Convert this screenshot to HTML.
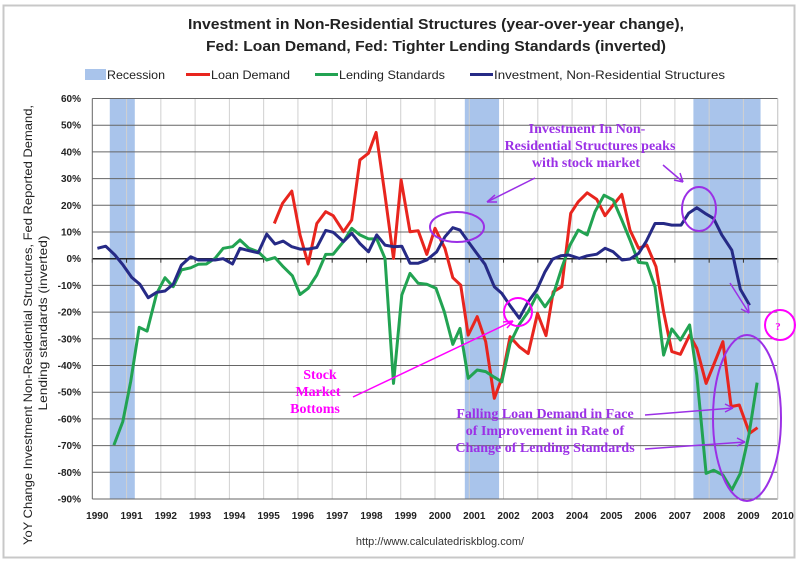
<!DOCTYPE html>
<html><head><meta charset="utf-8"><style>
body{margin:0;background:#fff;}
svg{display:block;font-family:"Liberation Sans",sans-serif;}
</style></head><body>
<svg id="chart" width="800" height="567" viewBox="0 0 800 567" xmlns="http://www.w3.org/2000/svg">
<rect x="3.5" y="5.5" width="791" height="552" fill="#fff" stroke="#c8c8c8" stroke-width="2"/>
<g font-weight="bold" font-size="15" fill="#222" text-anchor="middle">
<text x="436" y="29" textLength="496" lengthAdjust="spacingAndGlyphs">Investment in Non-Residential Structures (year-over-year change),</text>
<text x="436" y="51" textLength="460" lengthAdjust="spacingAndGlyphs">Fed: Loan Demand, Fed: Tighter Lending Standards (inverted)</text>
</g>
<g font-size="12" fill="#222">
<g><rect x="85" y="69" width="21" height="11" fill="#a9c4eb"/><text x="107" y="79" textLength="58" lengthAdjust="spacingAndGlyphs">Recession</text></g>
<g><line x1="186" y1="74.5" x2="210" y2="74.5" stroke="#e8251e" stroke-width="3"/><text x="211" y="79" textLength="79" lengthAdjust="spacingAndGlyphs">Loan Demand</text></g>
<g><line x1="315" y1="74.5" x2="338" y2="74.5" stroke="#22a352" stroke-width="3"/><text x="339" y="79" textLength="106" lengthAdjust="spacingAndGlyphs">Lending Standards</text></g>
<g><line x1="470" y1="74.5" x2="493" y2="74.5" stroke="#262a86" stroke-width="3"/><text x="494" y="79" textLength="231" lengthAdjust="spacingAndGlyphs">Investment, Non-Residential Structures</text></g>
</g>
<g font-size="12" fill="#222" text-anchor="middle">
<text transform="translate(32,325) rotate(-90)" textLength="440" lengthAdjust="spacingAndGlyphs">YoY Change Investment Non-Residential Structures, Fed Reported Demand,</text>
<text transform="translate(47,323) rotate(-90)" textLength="175" lengthAdjust="spacingAndGlyphs">Lending standards (inverted)</text>
</g>
<g id="plot"></g>
<g font-family="'Liberation Serif',serif" font-weight="bold" font-size="14" text-anchor="middle">
<g fill="#9b30e6">
<text x="587" y="133">Investment In Non-</text>
<text x="590" y="150">Residential Structures peaks</text>
<text x="586" y="167">with stock market</text>
</g>
<g fill="#ff00ff">
<text x="320" y="379">Stock</text>
<text x="318" y="396">Market</text>
<text x="315" y="413">Bottoms</text>
</g>
<g fill="#9b30e6">
<text x="545" y="418">Falling Loan Demand in Face</text>
<text x="545" y="435">of Improvement in Rate of</text>
<text x="545" y="452">Change of Lending Standards</text>
</g>
<text x="778" y="330" fill="#ff00ff" font-size="11">?</text>
</g>
<g fill="none" stroke-width="2">
<ellipse cx="457" cy="227" rx="27" ry="15" stroke="#9b30e6"/>
<ellipse cx="699" cy="209" rx="17" ry="22" stroke="#9b30e6"/>
<ellipse cx="747" cy="418" rx="34" ry="83" stroke="#9b30e6"/>
<circle cx="518" cy="312" r="14" stroke="#ff00ff"/>
<circle cx="780" cy="325" r="15" stroke="#ff00ff"/>
<g stroke="#9b30e6" stroke-width="1.5">
<line x1="535" y1="178" x2="487" y2="202"/><path d="M487 202 l8 -7 M487 202 l10 0"/>
<line x1="663" y1="165" x2="683" y2="182"/><path d="M683 182 l-3 -9 M683 182 l-9 -2"/>
<line x1="730" y1="283" x2="749" y2="313"/><path d="M749 313 l-1 -9 M749 313 l-8 -4"/>
<line x1="645" y1="415" x2="733" y2="408"/><path d="M733 408 l-8 -4 M733 408 l-8 4"/>
<line x1="645" y1="449" x2="745" y2="442"/><path d="M745 442 l-8 -4 M745 442 l-8 4"/>
</g>
<g stroke="#ff00ff" stroke-width="1.5">
<line x1="353" y1="397" x2="513" y2="321"/><path d="M513 321 l-10 1 M513 321 l-6 7"/>
</g>
</g>
<text x="440" y="545" font-size="11" fill="#333" text-anchor="middle">http://www.calculatedriskblog.com/</text>
</svg>
<script>
const yTicks = [60,50,40,30,20,10,0,-10,-20,-30,-40,-50,-60,-70,-80,-90];
const years = [1990,1991,1992,1993,1994,1995,1996,1997,1998,1999,2000,2001,2002,2003,2004,2005,2006,2007,2008,2009,2010];
const recessions = [[1990.51,1991.24],[2000.87,2001.87],[2007.54,2009.5]];
const invT = [1990.15,1990.39,1990.66,1990.9,1991.15,1991.39,1991.63,1991.88,1992.12,1992.36,1992.6,1992.87,1993.09,1993.33,1993.58,1993.82,1994.09,1994.31,1994.57,1994.84,1995.09,1995.33,1995.57,1995.82,1996.06,1996.3,1996.55,1996.81,1997.03,1997.33,1997.57,1997.81,1998.06,1998.3,1998.54,1998.79,1999.03,1999.27,1999.51,1999.76,2000.05,2000.29,2000.52,2000.73,2000.97,2001.22,2001.46,2001.73,2001.95,2002.19,2002.46,2002.72,2002.97,2003.21,2003.43,2003.67,2003.9,2004.21,2004.44,2004.72,2004.96,2005.2,2005.46,2005.69,2005.94,2006.16,2006.42,2006.67,2006.91,2007.18,2007.4,2007.64,2007.88,2008.13,2008.37,2008.66,2008.91,2009.18];
const invV = [3.9,4.7,1.4,-2.4,-7,-9.6,-14.6,-12.6,-12.1,-9.6,-2.4,0.7,-0.5,-0.5,-0.5,0,-2,3.9,3,2.2,9.2,5.5,6.6,4.5,3.6,3.6,4.2,10.6,9.9,6.4,9.5,5.7,2.6,8.9,5.1,4.5,4.7,-1.7,-1.7,-0.5,2.6,8.2,11.6,10.7,6.4,2,-2.1,-10.5,-13,-17.6,-22.3,-16.1,-11.7,-4.9,-0.2,1.1,1.4,0.1,1.1,1.7,3.9,2.6,-0.5,-0.1,2,6.4,13.2,13.2,12.6,12.6,17,19.1,17,15.1,8.9,3.2,-11.4,-17.4];
const loanT = [1995.31,1995.55,1995.82,1996.06,1996.3,1996.55,1996.81,1997.03,1997.33,1997.57,1997.81,1998.06,1998.28,1998.54,1998.79,1999.01,1999.27,1999.51,1999.76,2000,2000.29,2000.52,2000.75,2000.97,2001.23,2001.48,2001.73,2001.95,2002.19,2002.46,2002.72,2002.99,2003.24,2003.45,2003.7,2003.96,2004.18,2004.44,2004.72,2004.96,2005.2,2005.45,2005.69,2005.94,2006.18,2006.45,2006.67,2006.91,2007.16,2007.43,2007.64,2007.91,2008.13,2008.4,2008.64,2008.88,2009.18,2009.41];
const loanV = [13.2,20.7,25.3,8.9,-2,13.2,17.6,16.1,10.1,14.5,37,39.5,47.3,23.8,0.1,29.5,10.1,10.5,1.6,11.4,3.9,-7.1,-9.9,-28.6,-21.7,-31.1,-52.3,-44.8,-29.2,-33,-35.5,-20.5,-28.8,-12.4,-10.5,17,21.3,24.7,22.2,16.1,20.1,24.1,10.7,3.9,5.1,-3,-19.9,-34.8,-35.8,-28.6,-33.6,-46.7,-39.8,-31.1,-55.4,-54.8,-65.4,-63.3];
const lendT = [1990.63,1990.89,1991.12,1991.37,1991.6,1991.88,1992.12,1992.36,1992.6,1992.87,1993.09,1993.33,1993.58,1993.82,1994.09,1994.31,1994.57,1994.84,1995.09,1995.33,1995.57,1995.84,1996.06,1996.3,1996.55,1996.81,1997.03,1997.33,1997.57,1997.81,1998.06,1998.3,1998.54,1998.79,1999.03,1999.27,1999.51,1999.76,2000.03,2000.27,2000.52,2000.73,2000.97,2001.23,2001.48,2001.73,2001.95,2002.19,2002.46,2002.72,2002.97,2003.21,2003.45,2003.7,2003.94,2004.18,2004.44,2004.67,2004.93,2005.2,2005.45,2005.69,2005.94,2006.18,2006.42,2006.67,2006.91,2007.16,2007.43,2007.64,2007.91,2008.13,2008.4,2008.66,2008.91,2009.16,2009.4];
const lendV = [-69.8,-61,-46,-25.7,-27.1,-13,-7.1,-10.5,-4.2,-3.4,-2.1,-2,0.1,3.9,4.5,7,3.9,2.6,-0.5,0.4,-3,-6.4,-13.4,-11.1,-6.1,1.6,1.7,6.4,11.4,8.9,7.4,7.4,0.1,-46.7,-13.6,-5.5,-9.2,-9.6,-11.1,-19.9,-32.1,-26.1,-44.8,-41.7,-42.3,-44.4,-46.1,-31.7,-24.6,-19.9,-13.6,-18,-13.6,-3.4,5.1,10.7,8.9,17.6,23.8,22,14.5,7,-1.4,-1.7,-10.5,-36.1,-26.3,-30.5,-24.8,-43.6,-80.4,-79.2,-81,-86.6,-80.4,-66,-46.4];

const X0=92.3, X1=777.7, Y0=258.7, PPU=2.67;
const xS = t => X0 + (t-1990)*(X1-X0)/20;
const yS = v => Y0 - v*PPU;
const NS='http://www.w3.org/2000/svg';
const plot=document.getElementById('plot');
function mk(tag,attrs,parent){const e=document.createElementNS(NS,tag);for(const k in attrs)e.setAttribute(k,attrs[k]);(parent||plot).appendChild(e);return e;}

recessions.forEach(r=>{
  const e=mk('rect',{x:xS(r[0]),y:yS(60),width:xS(r[1])-xS(r[0]),height:yS(-90)-yS(60),fill:'#a9c4eb'});
  
  
});
years.forEach(y=>{
  if(y>1990){const g=mk('line',{x1:xS(y),x2:xS(y),y1:yS(60),y2:yS(-90),stroke:'#d0d0d0','stroke-width':1});
  
  }
  const tk=mk('line',{x1:xS(y),x2:xS(y),y1:Y0,y2:Y0+4,stroke:'#333','stroke-width':1});
  
  
  const t=mk('text',{x:xS(y)+5,y:yS(-90)+20,'font-size':10,'font-weight':'bold','text-anchor':'middle',fill:'#222'});
  t.textContent=y;
  
  
});
yTicks.forEach(v=>{
  const g=mk('line',{x1:X0,x2:X1,y1:yS(v),y2:yS(v),stroke:v===0?'#222':'#666','stroke-width':v===0?1.5:1});
  
  
  const t=mk('text',{x:81,y:yS(v)+3.5,'font-size':10,'font-weight':'bold','text-anchor':'end',fill:'#222'});
  t.textContent=v+'%';
  
  
});
mk('line',{x1:X0,x2:X0,y1:yS(60),y2:yS(-90),stroke:'#666','stroke-width':1});
mk('line',{x1:X1,x2:X1,y1:yS(60),y2:yS(-90),stroke:'#ccc','stroke-width':1});
function series(T,V,color,name){
  const d=T.map((t,i)=>(i?'L':'M')+xS(t).toFixed(1)+' '+yS(V[i]).toFixed(1)).join(' ');
  const p=mk('path',{d:d,fill:'none',stroke:color,'stroke-width':3,'stroke-linejoin':'round'});
  
  
}
series(loanT,loanV,'#e8251e','loan-demand-line');
series(lendT,lendV,'#22a352','lending-standards-line');
series(invT,invV,'#262a86','investment-line');
</script>
</body></html>
